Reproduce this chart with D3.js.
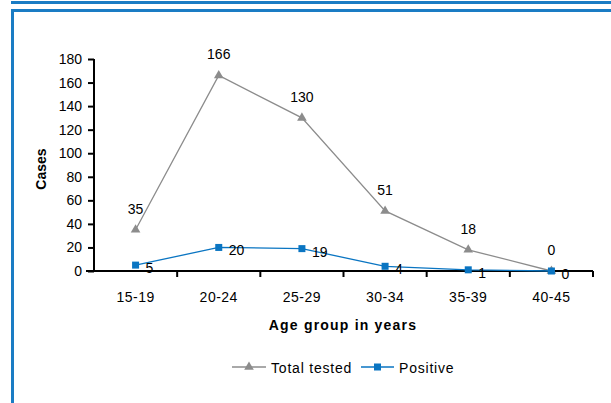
<!DOCTYPE html>
<html><head><meta charset="utf-8">
<script src="https://cdn.jsdelivr.net/npm/d3@7"></script>
<style>body{margin:0;background:#fff;}svg{display:block;font-family:"Liberation Sans",Arial,sans-serif;}</style>
</head><body><svg id="c" width="611" height="403"></svg>
<script>
const categories = ["15-19","20-24","25-29","30-34","35-39","40-45"];
const totalTested = [35,166,130,51,18,0];
const positive = [5,20,19,4,1,0];
const yTicks = [0,20,40,60,80,100,120,140,160,180];
const seriesNames = ["Total tested","Positive"];

const svg = d3.select("#c");
// frame
svg.append("line").attr("x1",11).attr("x2",611).attr("y1",2.5).attr("y2",2.5).attr("stroke","#1a7cc4").attr("stroke-width",3);
svg.append("path").attr("d","M12.5,403 V10.5 H611").attr("fill","none").attr("stroke","#1a7cc4").attr("stroke-width",3);

const L=94,R=593,T=59,B=271;
const FS=14;
const x = d3.scaleBand().domain(categories).range([L,R]);
const y = d3.scaleLinear().domain([0,180]).range([B,T]);
const cx = d => x(d)+x.bandwidth()/2;

const ya = svg.append("g").attr("transform",`translate(${L},0)`)
  .call(d3.axisLeft(y).tickValues(yTicks).tickSize(6).tickPadding(6));
ya.select(".domain").attr("stroke","#000").attr("stroke-width",2).attr("d",`M0,${T}V${B}`);
ya.selectAll(".tick line").attr("stroke","#000").attr("stroke-width",2);
ya.selectAll("text").attr("font-size",FS).attr("fill","#000").attr("font-family","Liberation Sans, Arial");

const xa = svg.append("g").attr("transform",`translate(0,${B})`)
  .call(d3.axisBottom(x).tickSize(0).tickPadding(21));
xa.select(".domain").attr("stroke","#000").attr("stroke-width",2).attr("d",`M${L-8},0H${R}`);
xa.selectAll("text").attr("font-size",FS).attr("fill","#000").attr("font-family","Liberation Sans, Arial").attr("letter-spacing",0.5);
// boundary ticks
const bounds = categories.map(c=>x(c)).concat([R]).slice(1);
svg.append("g").selectAll("line").data(bounds).join("line")
  .attr("x1",d=>d).attr("x2",d=>d).attr("y1",B).attr("y2",B+6).attr("stroke","#000").attr("stroke-width",2);

svg.append("text").attr("transform","translate(46,169) rotate(-90)").attr("text-anchor","middle")
  .attr("font-size",FS).attr("font-weight","bold").text("Cases");
svg.append("text").attr("x",343).attr("y",330).attr("text-anchor","middle")
  .attr("font-size",FS).attr("font-weight","bold").attr("letter-spacing",1.2).text("Age group in years");

const gray="#8c8c8c", blue="#0a75c2";
const line = d3.line().x((d,i)=>cx(categories[i])).y(d=>y(d));
svg.append("path").datum(totalTested).attr("d",line).attr("fill","none").attr("stroke",gray).attr("stroke-width",1.3);
svg.append("path").datum(positive).attr("d",line).attr("fill","none").attr("stroke",blue).attr("stroke-width",1.3);
const tri = d3.symbol().type(d3.symbolTriangle).size(40);
svg.append("g").selectAll("path").data(totalTested).join("path")
  .attr("transform",(d,i)=>`translate(${cx(categories[i])},${y(d)})`).attr("d",tri).attr("fill",gray);
svg.append("g").selectAll("rect").data(positive).join("rect")
  .attr("x",(d,i)=>cx(categories[i])-3.5).attr("y",d=>y(d)-3.5).attr("width",7).attr("height",7).attr("fill",blue);

svg.append("g").selectAll("text").data(totalTested).join("text")
  .attr("x",(d,i)=>cx(categories[i])).attr("y",d=>y(d)-16).attr("text-anchor","middle")
  .attr("font-size",FS).text(d=>d);
svg.append("g").selectAll("text").data(positive).join("text")
  .attr("x",(d,i)=>cx(categories[i])+10).attr("y",d=>y(d)+8).attr("text-anchor","start")
  .attr("font-size",FS).text(d=>d);

// legend
const lg = svg.append("g");
lg.append("line").attr("x1",232).attr("x2",266).attr("y1",367).attr("y2",367).attr("stroke",gray).attr("stroke-width",1.3);
lg.append("path").attr("transform","translate(249,367)").attr("d",tri).attr("fill",gray);
lg.append("text").attr("x",271).attr("y",372.5).attr("font-size",FS).attr("letter-spacing",0.8).text(seriesNames[0]);
lg.append("line").attr("x1",361).attr("x2",394).attr("y1",367).attr("y2",367).attr("stroke",blue).attr("stroke-width",1.3);
lg.append("rect").attr("x",374).attr("y",363.5).attr("width",7).attr("height",7).attr("fill",blue);
lg.append("text").attr("x",399).attr("y",372.5).attr("font-size",FS).attr("letter-spacing",0.8).text(seriesNames[1]);
</script></body></html>
